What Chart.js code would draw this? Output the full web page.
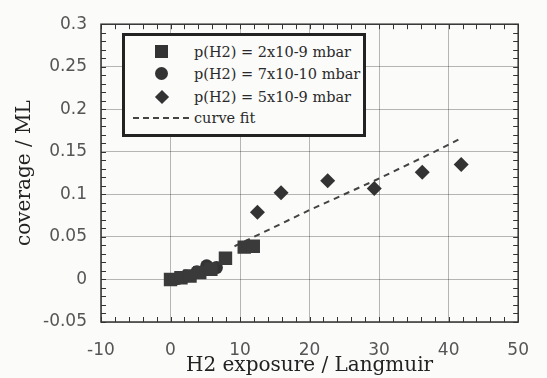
<!DOCTYPE html>
<html>
<head>
  <meta charset="utf-8">
  <title>coverage vs H2 exposure</title>
  <script src="https://cdn.jsdelivr.net/npm/chart.js@4.4.1/dist/chart.umd.min.js"></script>
  <style>
    html, body { margin: 0; padding: 0; background: #fbfbfa; }
    #wrap { position: relative; width: 547px; height: 378px; }
    #legend {
      position: absolute; left: 122px; top: 33px; width: 244px; height: 104px;
      box-sizing: border-box; border: 3px solid #222; background: #fbfbfa;
      font-family: "DejaVu Serif", serif; font-size: 14.5px; color: #2a2a2a;
    }
    #legend .row { position: absolute; left: 0; width: 100%; height: 20px; }
    #legend .txt { position: absolute; left: 69px; top: 0; line-height: 20px; white-space: nowrap; }
    #legend .mk { position: absolute; background: #333; }
    .sq { left: 30px; top: 3px; width: 13px; height: 13px; }
    .ci { left: 30px; top: 3px; width: 13px; height: 13px; border-radius: 50%; }
    .di { left: 32px; top: 5px; width: 10px; height: 10px; transform: rotate(45deg); }
    .dash { left: 8px; top: 9px; width: 58px; height: 2px;
      background: repeating-linear-gradient(to right, #444 0 6px, transparent 6px 10px) !important; }
  </style>
</head>
<body>
  <div id="wrap">
    <canvas id="chart" width="547" height="378"></canvas>
    <div id="legend">
      <div class="row" style="top:6px"><div class="mk sq"></div><div class="txt">p(H2) = 2x10-9 mbar</div></div>
      <div class="row" style="top:28px"><div class="mk ci"></div><div class="txt">p(H2) = 7x10-10 mbar</div></div>
      <div class="row" style="top:51px"><div class="mk di"></div><div class="txt">p(H2) = 5x10-9 mbar</div></div>
      <div class="row" style="top:72px"><div class="mk dash"></div><div class="txt">curve fit</div></div>
    </div>
  </div>

  <script>
    // series (x = exposure in Langmuir, y = coverage in ML)
    const sq_x = [0, 1.5, 2.8, 4.2, 5.8, 7.9, 10.6, 11.9];
    const sq_y = [0.0, 0.002, 0.004, 0.008, 0.012, 0.025, 0.038, 0.039];
    const ci_x = [1, 2.2, 3.8, 5.2, 6.6];
    const ci_y = [0.001, 0.004, 0.009, 0.016, 0.014];
    const di_x = [12.5, 15.9, 22.6, 29.3, 36.2, 41.8];
    const di_y = [0.079, 0.102, 0.116, 0.107, 0.126, 0.135];
    const fit_x = [9.2, 20.1, 29.3, 38.2, 41.8];
    const fit_y = [0.039, 0.082, 0.116, 0.151, 0.166];

    // tick labels
    const x_ticks = [-10, 0, 10, 20, 30, 40, 50];
    const y_ticks = [-0.05, 0, 0.05, 0.1, 0.15, 0.2, 0.25, 0.3];

    function pts(xs, ys) {
      return xs.map(function(x, i) { return {x: x, y: ys[i]}; });
    }

    // frame on all four sides plus small inward minor ticks
    const frame_plugin = {
      id: "frame",
      afterDraw: function(chart) {
        const ctx = chart.ctx, a = chart.chartArea;
        const sx = chart.scales.x, sy = chart.scales.y;
        ctx.save();
        ctx.strokeStyle = "#333";
        ctx.lineWidth = 1;
        ctx.beginPath();
        for (let i = 0; i <= 30; i++) {
          const px = Math.round(sx.getPixelForValue(sx.min + i * 2)) + 0.5;
          ctx.moveTo(px, a.bottom); ctx.lineTo(px, a.bottom - 5);
          ctx.moveTo(px, a.top); ctx.lineTo(px, a.top + 5);
        }
        for (let i = 0; i <= 35; i++) {
          const py = Math.round(sy.getPixelForValue(sy.min + i * 0.01)) + 0.5;
          ctx.moveTo(a.left, py); ctx.lineTo(a.left + 5, py);
          ctx.moveTo(a.right, py); ctx.lineTo(a.right - 5, py);
        }
        ctx.stroke();
        ctx.lineWidth = 1.5;
        ctx.strokeRect(a.left, a.top, a.right - a.left, a.bottom - a.top);
        ctx.restore();
      }
    };

    const ink = "#333";
    new Chart(document.getElementById("chart"), {
      type: "scatter",
      data: {
        datasets: [
          { data: pts(sq_x, sq_y), pointStyle: "rect", pointRadius: 9.5,
            backgroundColor: "#3a3a3a", borderColor: "#3a3a3a", borderWidth: 0 },
          { data: pts(ci_x, ci_y), pointStyle: "circle", pointRadius: 6.5,
            backgroundColor: ink, borderColor: ink, borderWidth: 0 },
          { data: pts(di_x, di_y), pointStyle: "rectRot", pointRadius: 7.5,
            backgroundColor: ink, borderColor: ink, borderWidth: 0 },
          { type: "line", data: pts(fit_x, fit_y), showLine: true, pointRadius: 0,
            borderColor: "#444", borderWidth: 2, borderDash: [6, 5], fill: false }
        ]
      },
      options: {
        responsive: false,
        animation: false,
        events: [],
        layout: { padding: { left: 0, right: 16, top: 20, bottom: 0 } },
        plugins: { legend: { display: false }, tooltip: { enabled: false } },
        scales: {
          x: {
            type: "linear", min: -10, max: 50,
            afterBuildTicks: function(s) { s.ticks = x_ticks.map(function(v) { return {value: v}; }); },
            afterFit: function(s) { s.height = 56; },
            ticks: { callback: function(v) { return String(v); }, color: "#555", padding: 18,
              font: { family: "DejaVu Sans", size: 17 } },
            grid: { color: "rgba(0,0,0,0.28)", drawTicks: false },
            border: { display: false },
            title: { display: true, text: "H2 exposure / Langmuir", color: "#222",
              font: { family: "DejaVu Serif", size: 20 }, padding: { top: 0, bottom: 0 } }
          },
          y: {
            type: "linear", min: -0.05, max: 0.3,
            afterBuildTicks: function(s) { s.ticks = y_ticks.map(function(v) { return {value: v}; }); },
            afterFit: function(s) { s.width = 101; },
            ticks: { callback: function(v) { return String(v); }, color: "#555", padding: 14,
              font: { family: "DejaVu Sans", size: 17 } },
            grid: { color: "rgba(0,0,0,0.28)", drawTicks: false },
            border: { display: false },
            title: { display: true, text: "coverage / ML", color: "#222",
              font: { family: "DejaVu Serif", size: 20 }, padding: { top: 13, bottom: 0 } }
          }
        }
      },
      plugins: [frame_plugin]
    });
  </script>
</body>
</html>
